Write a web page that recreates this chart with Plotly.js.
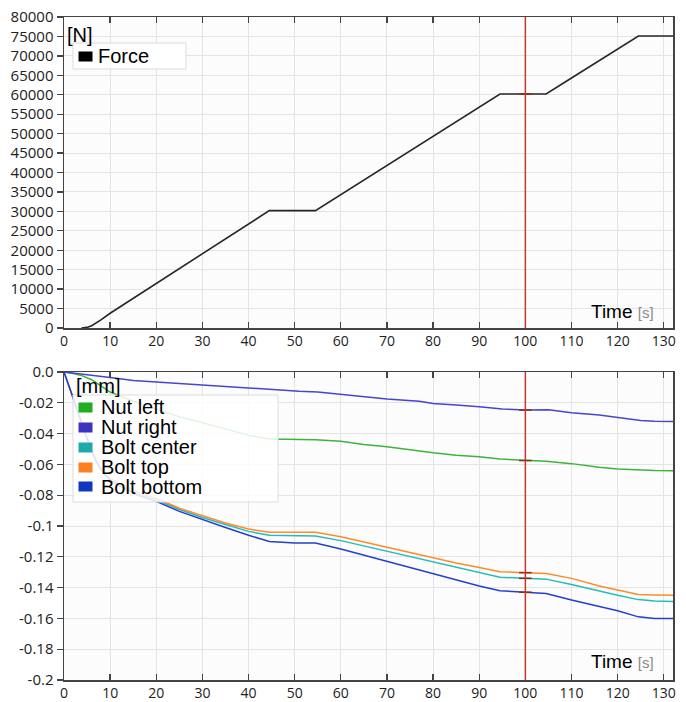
<!DOCTYPE html>
<html>
<head>
<meta charset="utf-8">
<script src="https://cdn.plot.ly/plotly-3.0.1.min.js"></script>
<style>html,body{margin:0;padding:0;background:#fff;}#chart{width:686px;height:702px;}</style>
</head>
<body>
<div id="chart"></div>
<script>
// ---- data ----
const cursorTime = 100;

const timeForce = [3.8, 5, 6, 7, 8, 10, 20, 30, 40, 44.5, 54.5, 60, 70, 80, 90, 94.5, 100, 104.5, 110, 120, 124.5, 132];
const force     = [0, 150, 600, 1300, 2100, 3800, 11400, 19000, 26700, 30200, 30200, 34300, 41800, 49300, 56800, 60200, 60200, 60200, 64300, 71700, 75100, 75100];

const timeNutLeft = [0, 2, 4, 6, 8, 10, 15, 20, 25, 30, 35, 40, 44.5, 50, 54.5, 60, 65, 70, 77, 80, 85, 90, 94.5, 100, 104.5, 110, 116, 120, 124.5, 128, 132];
const nutLeft     = [0, -0.001, -0.0025, -0.005, -0.009, -0.013, -0.019, -0.024, -0.029, -0.033, -0.037, -0.041, -0.0435, -0.0437, -0.044, -0.045, -0.047, -0.0485, -0.0513, -0.0525, -0.054, -0.055, -0.0565, -0.0575, -0.058, -0.0595, -0.0619, -0.063, -0.0637, -0.064, -0.0642];

const timeNutRight = [0, 3, 6, 10, 15, 20, 25, 30, 40, 45, 51, 55, 60, 65, 70, 77, 80, 85, 90, 95, 100, 105, 110, 116, 120, 125, 128, 132];
const nutRight     = [0, -0.001, -0.002, -0.0035, -0.0055, -0.0065, -0.0075, -0.0085, -0.0105, -0.0115, -0.0125, -0.013, -0.0145, -0.016, -0.0175, -0.019, -0.0205, -0.0215, -0.0225, -0.024, -0.0247, -0.0245, -0.0265, -0.028, -0.0295, -0.0315, -0.032, -0.0322];

const timeBolt   = [0, 1, 2, 3, 4, 5, 6, 7, 8, 9, 10, 12, 14, 16, 18, 20, 25, 30, 35, 40, 44.5, 50, 54.5, 60, 65, 70, 75, 80, 85, 90, 94.5, 100, 104.5, 110, 116, 120, 124.5, 128, 132];
const boltCenter = [0, -0.008, -0.017, -0.026, -0.035, -0.043, -0.051, -0.058, -0.063, -0.067, -0.070, -0.073, -0.076, -0.079, -0.081, -0.083, -0.0893, -0.0945, -0.099, -0.1035, -0.106, -0.1063, -0.1065, -0.1095, -0.113, -0.1165, -0.12, -0.1235, -0.127, -0.1305, -0.1333, -0.134, -0.1345, -0.138, -0.1425, -0.145, -0.1478, -0.1487, -0.149];
const boltTop    = [0, -0.008, -0.017, -0.026, -0.035, -0.043, -0.051, -0.058, -0.063, -0.067, -0.069, -0.072, -0.075, -0.078, -0.080, -0.082, -0.0885, -0.0935, -0.098, -0.102, -0.104, -0.104, -0.104, -0.107, -0.1105, -0.114, -0.117, -0.1205, -0.124, -0.127, -0.1297, -0.1303, -0.1308, -0.134, -0.139, -0.1415, -0.1445, -0.1448, -0.145];
const boltBottom = [0, -0.008, -0.017, -0.026, -0.035, -0.043, -0.051, -0.058, -0.063, -0.067, -0.070, -0.074, -0.077, -0.080, -0.082, -0.084, -0.0905, -0.096, -0.101, -0.106, -0.110, -0.111, -0.111, -0.115, -0.119, -0.123, -0.127, -0.131, -0.135, -0.139, -0.142, -0.143, -0.1438, -0.148, -0.152, -0.155, -0.159, -0.160, -0.160];

const forceName = 'Force';
const dispNames = ['Nut left', 'Nut right', 'Bolt center', 'Bolt top', 'Bolt bottom'];
const dispTimes = [timeNutLeft, timeNutRight, timeBolt, timeBolt, timeBolt];
const dispValues = [nutLeft, nutRight, boltCenter, boltTop, boltBottom];
const dispColors = ['#3cb43c', '#4a44cc', '#22bcbc', '#ff8a2a', '#2240cc'];
const swatchColors = ['#1fae1f', '#3a34c0', '#1faaaa', '#ff8020', '#1236c4'];

const forceTicks = [0,5000,10000,15000,20000,25000,30000,35000,40000,45000,50000,55000,60000,65000,70000,75000,80000];
const dispTickVals = [0, -0.02, -0.04, -0.06, -0.08, -0.1, -0.12, -0.14, -0.16, -0.18, -0.2];
const dispTickText = ['0.0', '-0.02', '-0.04', '-0.06', '-0.08', '-0.1', '-0.12', '-0.14', '-0.16', '-0.18', '-0.2'];
const timeTicks = [0,10,20,30,40,50,60,70,80,90,100,110,120,130];

// ---- geometry helpers (layout only) ----
const W = 686, H = 702, ML = 64, MR = 13, MT = 17, MB = 22;
const PW = W - ML - MR, PH = H - MT - MB;
const px = v => (v - ML) / PW;
const py = v => (H - MB - v) / PH;

const traces = [];
traces.push({x: timeForce, y: force, xaxis: 'x', yaxis: 'y', mode: 'lines', name: forceName,
  line: {color: '#262626', width: 1.6}, showlegend: false, hoverinfo: 'skip'});
for (let i = 0; i < dispNames.length; i++) {
  traces.push({x: dispTimes[i], y: dispValues[i], xaxis: 'x2', yaxis: 'y2', mode: 'lines', name: dispNames[i],
    line: {color: dispColors[i], width: 1.5}, showlegend: false, hoverinfo: 'skip'});
}
// cursor markers at t = cursorTime
const fIdx = timeForce.indexOf(cursorTime);
traces.push({x: [cursorTime], y: [force[fIdx]], xaxis: 'x', yaxis: 'y', mode: 'markers',
  marker: {symbol: 'line-ew', size: 9, line: {color: '#8b2a1a', width: 1.5}}, showlegend: false, hoverinfo: 'skip'});
const cx = [], cy = [];
for (let i = 0; i < dispNames.length; i++) {
  const k = dispTimes[i].indexOf(cursorTime);
  if (k >= 0) { cx.push(cursorTime); cy.push(dispValues[i][k]); }
}
traces.push({x: cx, y: cy, xaxis: 'x2', yaxis: 'y2', mode: 'markers',
  marker: {symbol: 'line-ew', size: 9, line: {color: '#8b2a1a', width: 1.5}}, showlegend: false, hoverinfo: 'skip'});

const tickFont = {family: 'Open Sans, DejaVu Sans, sans-serif', size: 14, color: '#222'};
const yTickFont = {family: 'Open Sans, DejaVu Sans, sans-serif', size: 15, color: '#222'};
const xBase = {range: [0, 132], tickvals: timeTicks, ticks: 'inside', ticklen: 6, tickcolor: '#444', tickwidth: 1.3,
  showline: true, linecolor: '#444', linewidth: 1.5, mirror: 'ticks', showgrid: true, gridcolor: '#e4e4e4',
  zeroline: false, tickfont: tickFont, automargin: false, fixedrange: true};
const yBase = {ticks: 'outside', ticklen: 6, tickcolor: '#444', tickwidth: 1.3, showline: true, linecolor: '#444',
  linewidth: 1.5, mirror: true, showgrid: true, gridcolor: '#e4e4e4', zeroline: false, tickfont: yTickFont,
  automargin: false, fixedrange: true};

const layout = {
  width: W, height: H,
  margin: {l: ML, r: MR, t: MT, b: MB, pad: 0},
  paper_bgcolor: '#ffffff', plot_bgcolor: '#fcfcfc',
  showlegend: false,
  xaxis: Object.assign({}, xBase, {anchor: 'y', domain: [0, 1]}),
  yaxis: Object.assign({}, yBase, {anchor: 'x', domain: [py(328), 1], range: [0, 80000], tickvals: forceTicks, tickformat: 'd'}),
  xaxis2: Object.assign({}, xBase, {anchor: 'y2', domain: [0, 1]}),
  yaxis2: Object.assign({}, yBase, {anchor: 'x2', domain: [0, py(372)], range: [-0.2, 0], tickvals: dispTickVals, ticktext: dispTickText}),
  yaxis3: {overlaying: 'y', anchor: 'x', side: 'right', range: [0, 80000], tickvals: forceTicks, ticks: 'inside', ticklen: 6,
    tickcolor: '#444', showticklabels: false, showgrid: false, zeroline: false, showline: false, fixedrange: true},
  yaxis4: {overlaying: 'y2', anchor: 'x2', side: 'right', range: [-0.2, 0], tickvals: dispTickVals, ticks: 'inside', ticklen: 6,
    tickcolor: '#444', showticklabels: false, showgrid: false, zeroline: false, showline: false, fixedrange: true},
  shapes: [
    {type: 'line', xref: 'x', yref: 'y domain', x0: cursorTime, x1: cursorTime, y0: 0, y1: 1, line: {color: '#c0392b', width: 1.5}, layer: 'above'},
    {type: 'line', xref: 'x2', yref: 'y2 domain', x0: cursorTime, x1: cursorTime, y0: 0, y1: 1, line: {color: '#c0392b', width: 1.5}, layer: 'above'},
    {type: 'rect', xref: 'paper', yref: 'paper', x0: px(73), x1: px(186), y0: py(69), y1: py(43),
      fillcolor: 'rgba(255,255,255,0.9)', line: {color: '#dcdcdc', width: 1}, layer: 'above'},
    {type: 'rect', xref: 'paper', yref: 'paper', x0: px(73), x1: px(278), y0: py(502), y1: py(395),
      fillcolor: 'rgba(255,255,255,0.85)', line: {color: '#dcdcdc', width: 1}, layer: 'above'}
  ],
  annotations: []
};

const legFont = {family: 'Liberation Sans, Arial, sans-serif', size: 20, color: '#000'};
const ann = layout.annotations;
ann.push({xref: 'paper', yref: 'paper', x: px(65), y: py(35), xanchor: 'left', yanchor: 'middle', text: '[N]', showarrow: false, font: legFont});
ann.push({xref: 'paper', yref: 'paper', x: px(78), y: py(56), xanchor: 'left', yanchor: 'middle', text: ' ', showarrow: false,
  bgcolor: '#000', width: 13, height: 9, borderpad: 0});
ann.push({xref: 'paper', yref: 'paper', x: px(96), y: py(56), xanchor: 'left', yanchor: 'middle', text: forceName, showarrow: false, font: legFont});

ann.push({xref: 'paper', yref: 'paper', x: px(74), y: py(386), xanchor: 'left', yanchor: 'middle', text: '[mm]', showarrow: false, font: legFont});
const rowY = [407, 427, 447, 467, 487];
for (let i = 0; i < dispNames.length; i++) {
  ann.push({xref: 'paper', yref: 'paper', x: px(78), y: py(rowY[i]), xanchor: 'left', yanchor: 'middle', text: ' ', showarrow: false,
    bgcolor: swatchColors[i], width: 13, height: 9, borderpad: 0});
  ann.push({xref: 'paper', yref: 'paper', x: px(99), y: py(rowY[i]), xanchor: 'left', yanchor: 'middle', text: dispNames[i], showarrow: false, font: legFont});
}
const timeLabel = 'Time <span style="color:#8a8a8a;font-size:15px">[s]</span>';
ann.push({xref: 'paper', yref: 'paper', x: px(589), y: py(311), xanchor: 'left', yanchor: 'middle', text: timeLabel, showarrow: false,
  font: {family: 'Liberation Sans, Arial, sans-serif', size: 19, color: '#000'}});
ann.push({xref: 'paper', yref: 'paper', x: px(589), y: py(661), xanchor: 'left', yanchor: 'middle', text: timeLabel, showarrow: false,
  font: {family: 'Liberation Sans, Arial, sans-serif', size: 19, color: '#000'}});

Plotly.newPlot('chart', traces, layout, {displayModeBar: false, staticPlot: true});
</script>
</body>
</html>
